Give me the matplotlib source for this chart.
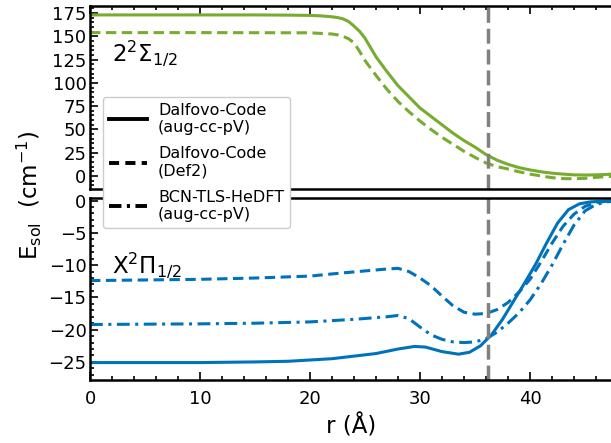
import matplotlib
matplotlib.use('Agg')
import matplotlib.pyplot as plt
from matplotlib.lines import Line2D
from matplotlib.ticker import MultipleLocator

plt.rcParams['font.family'] = ['DejaVu Sans']
plt.rcParams['mathtext.fontset'] = 'dejavusans'
plt.rcParams['mathtext.default'] = 'regular'

# 2^2Sigma_1/2 state (top panel)
r_sig_aug = [0, 5, 10, 15, 18, 20, 21, 22, 22.5, 23, 23.5, 24, 24.5, 25, 25.5, 26, 27, 28, 29, 30,
             31, 32, 33, 34, 35, 36, 37, 38, 39, 40, 41, 42, 43, 44, 45, 46, 47, 47.5]
e_sig_aug = [173, 173, 173, 173, 172.8, 172.5, 172, 171, 170.2, 168.8, 166, 161, 155.5, 148, 138, 128,
             112, 97, 85, 73, 64, 55, 46, 38, 31, 23, 17, 12.5, 9, 6.5, 4.5, 3, 2, 1.2, 1, 1.2, 1.7, 2]
r_sig_def2 = [0, 10, 20, 22, 22.5, 23, 23.5, 24, 24.5, 25, 25.5, 26, 27, 28, 29, 30, 31, 32, 33, 34,
              35, 36, 37, 38, 39, 40, 41, 42, 43, 44, 45, 46, 47, 47.5]
e_sig_def2 = [154, 154, 153.8, 152.5, 151.6, 150, 147.5, 143, 134, 124, 116, 108, 93, 80, 69, 59, 50,
              41.5, 34, 26.5, 20, 14, 10, 7.5, 4.5, 2, 0, -1.8, -2.8, -3, -2.5, -1.5, -0.6, -0.3]

# X^2Pi_1/2 state (bottom panel)
r_pi_aug = [0, 10, 15, 18, 20, 22, 24, 26, 28, 29.5, 30.5, 32, 33.5, 34.5, 35.5, 36.5, 37.5, 38.5, 39.5,
            40.5, 41.5, 42.5, 43.5, 44.5, 45.5, 46.5, 47.5]
e_pi_aug = [-25.1, -25.1, -25.0, -24.9, -24.7, -24.5, -24.1, -23.7, -23.0, -22.6, -22.7, -23.4, -23.8, -23.5,
            -22.5, -20.8, -18.4, -15.6, -12.8, -9.9, -6.6, -3.5, -1.4, -0.5, -0.2, -0.1, -0.05]
r_pi_def2 = [0, 10, 15, 20, 23, 25, 27, 28, 29, 30, 31, 32, 33, 34, 35, 36, 37, 38, 39, 40,
             41, 42, 43, 44, 45, 46, 47, 47.5]
e_pi_def2 = [-12.4, -12.2, -12.0, -11.7, -11.2, -10.9, -10.6, -10.5, -11.0, -12.0, -13.2, -14.8, -16.3, -17.3,
             -17.6, -17.5, -16.9, -15.8, -14.2, -12.2, -9.5, -6.6, -4.0, -2.1, -0.9, -0.3, -0.1, -0.05]
r_pi_bcn = [0, 10, 15, 20, 24, 27, 28, 29, 30, 31, 32, 33, 34, 35, 36, 37, 38, 39, 40,
            41, 42, 43, 44, 45, 46, 47, 47.5]
e_pi_bcn = [-19.2, -19.1, -19.0, -18.8, -18.4, -18.0, -17.8, -18.3, -19.6, -20.8, -21.5, -21.9, -22.0, -21.9,
            -21.4, -20.4, -19.0, -17.4, -15.4, -12.9, -10.0, -6.8, -3.8, -1.6, -0.6, -0.2, -0.1]

r_line = 36.2
labels = ['Dalfovo-Code\n(aug-cc-pV)', 'Dalfovo-Code\n(Def2)', 'BCN-TLS-HeDFT\n(aug-cc-pV)']

green = '#77ac30'
blue = '#0072bd'
dash = (3.4, 1.8)
dashdot = (4.2, 1.8, 1.0, 1.8)

fig = plt.figure(figsize=(6.11, 4.43), dpi=100)
ax1 = fig.add_axes([90/611, 1-189/443, 522.5/611, 183/443])
ax2 = fig.add_axes([90/611, 1-380/443, 522.5/611, 182/443])

ax1.plot(r_sig_aug, e_sig_aug, color=green, lw=2.2)
ax1.plot(r_sig_def2, e_sig_def2, color=green, lw=2.2, ls='--', dashes=dash)
ax2.plot(r_pi_aug, e_pi_aug, color=blue, lw=2.2)
ax2.plot(r_pi_def2, e_pi_def2, color=blue, lw=2.2, ls='--', dashes=dash)
ax2.plot(r_pi_bcn, e_pi_bcn, color=blue, lw=2.2, ls='-.', dashes=dashdot)

for ax in (ax1, ax2):
    ax.axvline(r_line, color='#808080', lw=2.5, dashes=(4.3, 1.7))
    ax.set_xlim(0, 47.5)
    ax.xaxis.set_major_locator(MultipleLocator(10))
    ax.xaxis.set_minor_locator(MultipleLocator(2))
    ax.tick_params(which='both', direction='in', labelsize=13, width=1.2)
    ax.tick_params(which='major', length=6)
    ax.tick_params(which='minor', length=3)
    ax.tick_params(axis='y', pad=2.5)
    for s in ax.spines.values():
        s.set_linewidth(1.8)

ax1.set_ylim(-14, 182.6)
ax1.yaxis.set_major_locator(MultipleLocator(25))
ax1.yaxis.set_minor_locator(MultipleLocator(5))
ax1.xaxis.tick_top()
ax1.tick_params(axis='x', labeltop=False)

ax2.set_ylim(-27.8, 0.4)
ax2.yaxis.set_major_locator(MultipleLocator(5))
ax2.yaxis.set_minor_locator(MultipleLocator(1))
ax2.xaxis.tick_bottom()
ax2.tick_params(axis='x', pad=7)
ax2.set_xlabel('r (Å)', fontsize=16.5, labelpad=5)

ax1.text(2.0, 132, r'$2^2\Sigma_{1/2}$', fontsize=16.5, va='center')
ax2.text(2.0, -10.0, r'$X^2\Pi_{1/2}$', fontsize=16.5, va='center')

fig.text(0.048, 0.56, r'$E_{sol}$  (cm$^{-1}$)', rotation=90, fontsize=16.5, ha='center', va='center')

handles = [Line2D([], [], color='k', lw=2.8),
           Line2D([], [], color='k', lw=2.8, ls='--', dashes=(2.6, 1.6)),
           Line2D([], [], color='k', lw=2.8, ls='-.', dashes=(3.2, 1.4, 0.8, 1.4))]
leg = fig.legend(handles, labels, loc='upper left', bbox_to_anchor=(103/611, 1-97/443),
                 fontsize=11.5, handlelength=2.4, handletextpad=0.7, labelspacing=0.7,
                 borderpad=0.35, borderaxespad=0, framealpha=1, edgecolor='#cccccc')

plt.savefig('out.png', dpi=100)
